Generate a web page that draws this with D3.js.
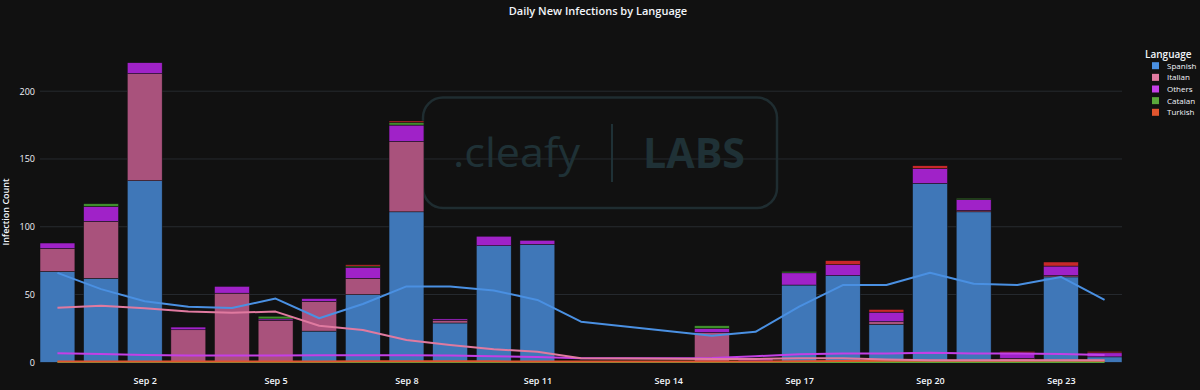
<!DOCTYPE html>
<html>
<head>
<meta charset="utf-8">
<script src="https://cdn.jsdelivr.net/npm/d3@7"></script>
<style>
  html, body { margin: 0; padding: 0; background: #111111; }
  svg { display: block; }
</style>
</head>
<body>
<svg id="chart" width="1200" height="390"></svg>
<script>
// Data
var days = ["2024-08-31","2024-09-01","2024-09-02","2024-09-03","2024-09-04","2024-09-05",
  "2024-09-06","2024-09-07","2024-09-08","2024-09-09","2024-09-10","2024-09-11","2024-09-12",
  "2024-09-13","2024-09-14","2024-09-15","2024-09-16","2024-09-17","2024-09-18","2024-09-19",
  "2024-09-20","2024-09-21","2024-09-22","2024-09-23","2024-09-24"];
var languages = ["Spanish", "Italian", "Others", "Catalan", "Turkish"];

var spanish = [67, 62, 134, 0, 0, 0, 23, 50, 111, 29, 86, 87, 0, 0, 0, 0, 1, 57, 64, 28, 132, 111, 1, 63, 4];
var italian = [17, 42, 79, 24, 51, 31, 22, 12, 52, 2, 0, 0, 0, 0, 0, 22, 0, 0, 0, 2, 0, 1, 2, 1, 0];
var others  = [4, 11, 8, 2, 5, 1, 2, 8, 12, 1, 7, 3, 0, 0, 0, 3, 2, 9, 8, 7, 11, 8, 4, 7, 3];
var catalan = [0, 2, 0, 0, 0, 2, 0, 1, 2, 0, 0, 0, 0, 0, 0, 2, 0, 1, 0, 0, 0, 1, 0, 0, 0];
var turkish = [0, 0, 0, 0, 0, 0, 0, 1, 1, 0, 0, 0, 0, 0, 0, 0, 0, 0, 3, 2, 2, 0, 1, 3, 1];

// trend lines (null = no point that day, line just joins the neighbours)
var spanishTrend = [66, 54, 45, 41, 40, 47, 32.5, 43, 56, 56, 53, 46, 30, null, null, 19.5, 22.5, 41, 57, 57, 66, 58, 57, 63, 46];
var italianTrend = [40.3, 41.8, 39.8, 37.4, 36.6, 37.4, 27, 23.8, 16.5, 12.8, 9.6, 7.8, 3, null, null, 2.5, 2.5, 3, 3, 2, 1.5, 1.5, 1.5, 1.5, 1.5];
var othersTrend  = [6.6, 6.2, 5.4, 5, 5, 5, 5.2, 5.2, 5.2, 5, 4.5, 4, 3, null, null, 3.2, 4.5, 6, 6.5, 6.5, 7, 6.5, 6.5, 6.2, 5.4];
var catalanTrend = [0.2, 0.2, 0.2, 0.2, 0.2, 0.3, 0.3, 0.3, 0.3, 0.3, 0.3, 0.3, 0.3, null, null, 0.3, 0.3, 0.3, 0.3, 0.2, 0.2, 0.2, 0.2, 0.2, 0.2];
var turkishTrend = [0.6, 0.6, 0.6, 0.6, 0.6, 0.6, 0.6, 0.7, 0.8, 0.8, 0.7, 0.6, 0.6, null, null, 0.6, 0.6, 0.7, 1, 1.2, 1.2, 1.2, 1.2, 1.3, 1.2];

var yTicks = [0, 50, 100, 150, 200];
var xTicks = ["2024-09-02","2024-09-05","2024-09-08","2024-09-11","2024-09-14","2024-09-17","2024-09-20","2024-09-23"];

var barColors  = ["#3f77b8", "#a9527c", "#a022c8", "#3f8f2c", "#c8282a"];
var lineColors = ["#4a90e2", "#e07aa0", "#c43fe6", "#5aa83a", "#e0552e"];

// Setup
var svg = d3.select("#chart");
var W = 1200, H = 390;
var plotL = 40, plotR = 1122, plotT = 47, plotB = 362.3;
var font = "'Open Sans', 'Liberation Sans', sans-serif";
var parse = d3.utcParse("%Y-%m-%d");
var dayMs = 864e5;

svg.append("rect").attr("width", W).attr("height", H).attr("fill", "#111111");

var dates = days.map(parse);
var x = d3.scaleUtc()
  .domain([new Date(+dates[0] - 0.4 * dayMs), new Date(+dates[dates.length - 1] + 0.4 * dayMs)])
  .range([plotL, plotR]);
var y = d3.scaleLinear().domain([0, 232.6]).range([plotB, plotT]);
var barW = (x(dates[1]) - x(dates[0])) * 0.8;

// grid
svg.append("g").selectAll("line").data(yTicks.slice(1)).enter().append("line")
  .attr("x1", plotL).attr("x2", plotR)
  .attr("y1", function(d) { return y(d); }).attr("y2", function(d) { return y(d); })
  .attr("stroke", "#262a2f").attr("stroke-width", 1);

// watermark
var wm = svg.append("g");
wm.append("rect").attr("x", 423).attr("y", 97.5).attr("width", 354).attr("height", 110.5)
  .attr("rx", 20).attr("fill", "none").attr("stroke", "#1f2d31").attr("stroke-width", 2.5);
wm.append("text").attr("x", 453).attr("y", 167).text(".cleafy")
  .attr("font-family", font).attr("font-size", 40).attr("fill", "#1f3136")
  .attr("textLength", 127).attr("lengthAdjust", "spacingAndGlyphs");
wm.append("line").attr("x1", 612).attr("x2", 612).attr("y1", 124).attr("y2", 182)
  .attr("stroke", "#1f3136").attr("stroke-width", 2);
wm.append("text").attr("x", 643).attr("y", 168).text("LABS")
  .attr("font-family", font).attr("font-weight", "bold").attr("font-size", 41).attr("fill", "#1f3136")
  .attr("textLength", 102).attr("lengthAdjust", "spacingAndGlyphs");

// stacked bars
var table = days.map(function(d, i) {
  return { date: dates[i], Spanish: spanish[i], Italian: italian[i], Others: others[i], Catalan: catalan[i], Turkish: turkish[i] };
});
var stacked = d3.stack().keys(languages)(table);

svg.append("g").selectAll("g").data(stacked).enter().append("g")
  .attr("fill", function(d, i) { return barColors[i]; })
  .selectAll("rect").data(function(d) { return d.filter(function(p) { return p[1] > p[0]; }); })
  .enter().append("rect")
  .attr("x", function(d) { return x(d.data.date) - barW / 2; })
  .attr("width", barW)
  .attr("y", function(d) { return y(d[1]); })
  .attr("height", function(d) { return y(d[0]) - y(d[1]); })
  .attr("stroke", "#111111").attr("stroke-width", 0.5);

// trend lines
var trends = [spanishTrend, italianTrend, othersTrend, catalanTrend, turkishTrend];
var line = d3.line()
  .x(function(d) { return x(d.date); })
  .y(function(d) { return y(d.v); });
var order = [3, 4, 2, 1, 0];
order.forEach(function(k) {
  var pts = [];
  trends[k].forEach(function(v, i) { if (v != null) pts.push({ date: dates[i], v: v }); });
  svg.append("path").datum(pts).attr("d", line)
    .attr("fill", "none").attr("stroke", lineColors[k]).attr("stroke-width", 2)
    .attr("stroke-linejoin", "round");
});

// axes
var yAxis = svg.append("g").attr("transform", "translate(" + (plotL - 5) + ",0)")
  .call(d3.axisLeft(y).tickValues(yTicks).tickSize(0).tickPadding(0));
yAxis.select(".domain").remove();
yAxis.selectAll("text").attr("font-family", font).attr("font-size", 9).attr("fill", "#f2f5fa");

var xAxis = svg.append("g").attr("transform", "translate(0," + (plotB + 12) + ")")
  .call(d3.axisBottom(x).tickValues(xTicks.map(parse)).tickFormat(d3.utcFormat("%b %-d")).tickSize(0).tickPadding(3));
xAxis.select(".domain").remove();
xAxis.selectAll("text").attr("font-family", font).attr("font-size", 9).attr("font-weight", 600).attr("fill", "#f2f5fa");

svg.append("text").attr("transform", "translate(9,212) rotate(-90)")
  .attr("text-anchor", "middle").attr("font-family", font).attr("font-size", 9).attr("font-weight", 600)
  .attr("fill", "#f2f5fa").text("Infection Count");

svg.append("text").attr("x", 598).attr("y", 15).attr("text-anchor", "middle")
  .attr("font-family", font).attr("font-size", 11).attr("font-weight", 600)
  .attr("fill", "#f2f5fa").text("Daily New Infections by Language");

// legend
var lg = svg.append("g");
lg.append("text").attr("x", 1145).attr("y", 58).text("Language")
  .attr("font-family", font).attr("font-size", 10).attr("font-weight", 600).attr("fill", "#f2f5fa");
var items = lg.selectAll("g.item").data(languages).enter().append("g")
  .attr("transform", function(d, i) { return "translate(1152," + (65.7 + i * 11.65) + ")"; });
items.append("rect").attr("x", 0).attr("y", -3.5).attr("width", 7).attr("height", 7)
  .attr("fill", function(d, i) { return lineColors[i]; });
items.append("text").attr("x", 15).attr("y", 3).text(function(d) { return d; })
  .attr("font-family", font).attr("font-size", 8).attr("fill", "#f2f5fa");
</script>
</body>
</html>
